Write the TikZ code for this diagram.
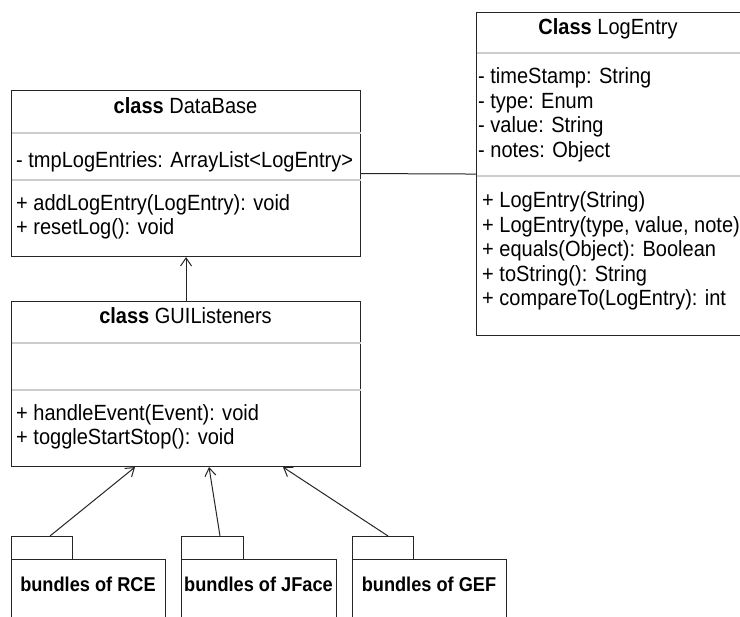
\documentclass[tikz,border=0pt]{standalone}
\usepackage{fontspec}
\setmainfont{Liberation Sans}[FakeStretch=0.91]
\usetikzlibrary{calc,arrows.meta}
\begin{document}
\begin{tikzpicture}[x=1pt,y=-1pt,
 box/.style={draw=black!85, line width=1.1pt, fill=white, inner sep=0pt, anchor=north west},
 sepline/.style={draw=black!20, line width=2.6pt, shorten <=0.6pt, shorten >=0.6pt},
 txt/.style={anchor=base west, inner sep=0pt, font=\fontsize{22}{24}\selectfont},
 ttl/.style={anchor=base, inner sep=0pt, font=\fontsize{22}{24}\selectfont},
 pkl/.style={anchor=base, inner sep=0pt, font=\fontsize{20}{24}\selectfont\bfseries},
 dep/.style={draw=black!85, line width=1pt, -{Straight Barb[length=8pt,width=11pt,line width=1pt]}}
]
\useasboundingbox (0,0) rectangle (740,617);
\fill[white] (0,0) rectangle (740,617);

% DataBase
\node[box, minimum width=349pt, minimum height=166pt] (db) at (11,90) {};
\draw[sepline] ($(db.north west)+(0,43)$) -- ($(db.north east)+(0,43)$);
\draw[sepline] ($(db.north west)+(0,90)$) -- ($(db.north east)+(0,90)$);
\node[ttl] (dbt) at (185.5,114) {\textbf{class} DataBase};
\node[txt] (dba1) at (16,168) {- tmpLogEntries: ArrayList<LogEntry>};
\node[txt] (dbm1) at (16,211) {+ addLogEntry(LogEntry): void};
\node[txt] (dbm2) at (16,235) {+ resetLog(): void};

% LogEntry
\node[box, minimum width=272pt, minimum height=323pt] (le) at (476,12) {};
\draw[sepline] ($(le.north west)+(0,41)$) -- ($(le.north east)+(0,41)$);
\draw[sepline] ($(le.north west)+(0,164)$) -- ($(le.north east)+(0,164)$);
\node[ttl] (let) at (608,35) {\textbf{Class} LogEntry};
\node[txt] (lea1) at (478,84) {- timeStamp: String};
\node[txt] (lea2) at (478,108.5) {- type: Enum};
\node[txt] (lea3) at (478,133) {- value: String};
\node[txt] (lea4) at (478,157.5) {- notes: Object};
\node[txt] (lem1) at (482,208) {+ LogEntry(String)};
\node[txt] (lem2) at (482,232.5) {+ LogEntry(type, value, note)};
\node[txt] (lem3) at (482,257) {+ equals(Object): Boolean};
\node[txt] (lem4) at (482,281.5) {+ toString(): String};
\node[txt] (lem5) at (482,306) {+ compareTo(LogEntry): int};

% GUIListeners
\node[box, minimum width=349pt, minimum height=165pt] (gui) at (11,301) {};
\draw[sepline] ($(gui.north west)+(0,42)$) -- ($(gui.north east)+(0,42)$);
\draw[sepline] ($(gui.north west)+(0,89)$) -- ($(gui.north east)+(0,89)$);
\node[ttl] (guit) at (185.5,324) {\textbf{class} GUIListeners};
\node[txt] (guim1) at (16,421) {+ handleEvent(Event): void};
\node[txt] (guim2) at (16,445) {+ toggleStartStop(): void};

% packages
\node[box, minimum width=61pt, minimum height=23pt] (rcetab) at (11,536) {};
\node[box, minimum width=154pt, minimum height=100pt] (rce) at (11,559) {};
\node[pkl] (rcel) at (88,592) {bundles of RCE};
\node[box, minimum width=62pt, minimum height=23pt] (jftab) at (181,536) {};
\node[box, minimum width=155pt, minimum height=100pt] (jf) at (181,559) {};
\node[pkl] (jfl) at (258.5,592) {bundles of JFace};
\node[box, minimum width=61pt, minimum height=23pt] (geftab) at (352,536) {};
\node[box, minimum width=154pt, minimum height=100pt] (gef) at (352,559) {};
\node[pkl] (gefl) at (429,592) {bundles of GEF};

% connectors
\draw[draw=black!85, line width=1pt] (db.east) -- (le.west);
\draw[dep] (gui.north) -- (db.south);
\draw[dep] ($(rcetab.north west)+(39,0)$) -- ($(gui.south west)+(124,0)$);
\draw[dep] ($(jftab.north west)+(39,0)$) -- ($(gui.south west)+(198,0)$);
\draw[dep] ($(geftab.north west)+(36,0)$) -- ($(gui.south west)+(272,0)$);
\end{tikzpicture}
\end{document}
